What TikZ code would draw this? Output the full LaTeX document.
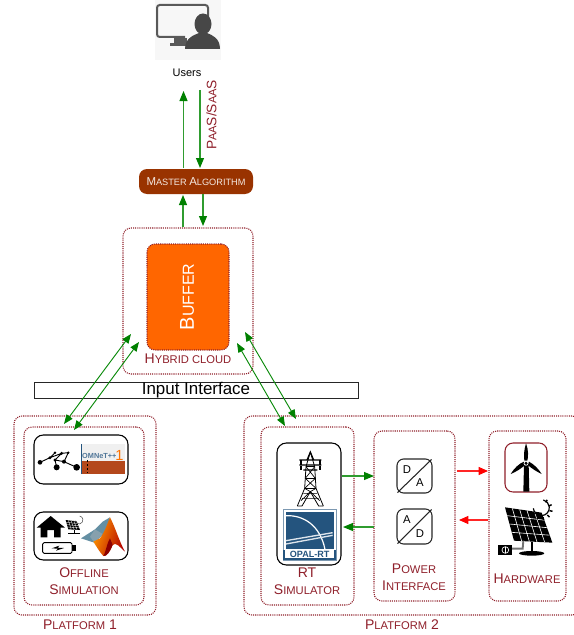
\documentclass[tikz,border=0pt]{standalone}
\usepackage{fontspec}
\setmainfont{Liberation Sans}
\usetikzlibrary{arrows.meta,calc}
\definecolor{dred}{HTML}{8F1F2A}
\definecolor{gline}{HTML}{0A8A0A}
\definecolor{mbrown}{HTML}{993300}
\definecolor{orng}{HTML}{FF6600}
\definecolor{opal}{HTML}{24547E}
\definecolor{omb}{HTML}{B4481C}
\newcommand\bigS{\fontsize{10.5}{12}\selectfont}
\newcommand\smlS{\fontsize{8.4}{10}\selectfont}
\newcommand\caps[2]{{\bigS #1\smlS #2}}
\newcommand\boxat[6]{\node[#2,minimum width={(#5-#3)*0.75pt},minimum height={(#6-#4)*0.75pt}] (#1) at ({(#3+#5)/2},{(#4+#6)/2}) {};}
\tikzset{
  dotbox/.style={draw=dred,line width=.8pt,dash pattern=on .8pt off .8pt,rounded corners=6pt,inner sep=0pt},
  iconbox/.style={draw=black,line width=.8pt,rounded corners=7pt,fill=white,inner sep=0pt},
  conv/.style={draw=black!85,line width=.8pt,rounded corners=5pt,inner sep=0pt},
  lab/.style={text=dred,align=center,inner sep=0pt,font=\bigS},
  garrow/.style={draw=gline!85!white,line width=.8pt,-{Triangle[length=7.5pt,width=6pt,color=green!50!black]}},
  gboth/.style={draw=gline,line width=.7pt,{Triangle[length=7pt,width=5.5pt,color=green!50!black]}-{Triangle[length=7pt,width=5.5pt,color=green!50!black]}},
  rarrow/.style={draw=red!85!white,line width=.8pt,-{Triangle[length=7pt,width=6pt,color=red]}}
}
\begin{document}
\begin{tikzpicture}[x=0.75pt,y=-0.75pt]
\useasboundingbox (0,0) rectangle (574,635);
% Users icon
\fill[black!3] (155,0) rectangle (221,60);
\draw[black!65,line width=1.5pt,rounded corners=2pt] (185,37) -- (157,37) -- (157,5) -- (208,5) -- (208,20);
\fill[black!65] (174,38) rectangle (187,43);
\fill[black!65] (170,43) rectangle (186,46);
\fill[black!72] (203,24) ellipse (8.5 and 10.5);
\fill[black!72] (185,49) .. controls (185,38) and (194,35) .. (199,33) -- (207,33) .. controls (212,35) and (220,38) .. (220,49) -- cycle;
\node[inner sep=0pt,font=\fontsize{8.25}{10}\selectfont] (users) at (187,73) {Users};
% master
\boxat{master}{draw=none,fill=mbrown,rounded corners=6pt,inner sep=0pt}{139}{169}{253}{194}
\node[text=white!88!mbrown,inner sep=0pt] (mastertext) at (196,181.5) {\fontsize{8.6}{10}\selectfont M\fontsize{6.9}{8}\selectfont ASTER \fontsize{8.6}{10}\selectfont A\fontsize{6.9}{8}\selectfont LGORITHM};
\node[rotate=90,text=dred,inner sep=0pt] (paas) at (211.5,115) {\fontsize{10.3}{12}\selectfont P\fontsize{8.3}{10}\selectfont AA\fontsize{10.3}{12}\selectfont S/S\fontsize{8.3}{10}\selectfont AA\fontsize{10.3}{12}\selectfont S};
% hybrid
\boxat{hybrid}{dotbox}{123}{228}{253}{374}
\boxat{buffer}{dotbox,fill=orng}{147}{244}{229}{350}
\node[rotate=90,text=white,inner sep=0pt] (buftext) at (187,297) {\fontsize{15}{17}\selectfont B\fontsize{12}{14}\selectfont UFFER};
\node[lab] (hybtext) at (188,359) {\caps{H}{YBRID CLOUD}};
% input interface
\boxat{input}{draw=black!85,line width=.7pt,inner sep=0pt}{34}{382}{358}{398}
\node[inner sep=0pt,font=\fontsize{12.7}{14}\selectfont] (inputtext) at (196,390) {Input Interface};
% platform 1
\boxat{plat1}{dotbox}{14}{416}{156}{615}
\boxat{off}{dotbox}{24}{427}{144}{605}
\boxat{ic1}{iconbox}{34}{435}{128}{484}
\boxat{ic2}{iconbox}{34}{512}{128}{560}
\node[lab] (offt) at (84,573) {\caps{O}{FFLINE}};
\node[lab] (simt) at (84,590) {\caps{S}{IMULATION}};
\node[lab] (p1t) at (80,625) {\caps{P}{LATFORM} 1};
% network graph and OMNeT
\begin{scope}[shift={(0,410)},x=0.25pt,y=-0.25pt]
  \draw[black,line width=.7pt] (120,157) -- (150,143) -- (165,128) (150,143) -- (185,130) -- (205,128) (185,130) -- (165,150) -- (170,172) (165,150) -- (192,155) -- (230,172) (192,155) -- (205,128);
  \foreach \p/\r in {{(120,157)}/7,{(150,143)}/5,{(165,128)}/4,{(185,130)}/5,{(205,128)}/4,{(165,150)}/5,{(192,155)}/6,{(170,172)}/9,{(230,172)}/10}{\fill[black] \p circle (\r);}
  \fill[black!6] (244,102) rectangle (375,152);
  \fill[omb] (244,152) rectangle (375,191);
  \fill[opal] (243,102) rectangle (246,191);
  \draw[black,line width=.6pt,dash pattern=on 1.5pt off 1.5pt] (262,150) -- (262,190);
  \node[inner sep=0pt,text=opal!80!white,font=\bfseries\fontsize{5.5}{6}\selectfont] (omnet) at (298,138) {OMNeT++};
  \node[inner sep=0pt,text=orange!90!red,font=\fontsize{11}{12}\selectfont] (omnum) at (358,136) {1};
  % house
  \fill[black] (110,353) -- (152,318) -- (195,353) -- (182,353) -- (182,382) -- (162,382) -- (162,360) -- (142,360) -- (142,382) -- (122,382) -- (122,353) -- cycle;
  % battery
  \draw[black,line width=.7pt,rounded corners=1pt,fill=white] (128,398) rectangle (216,430);
  \fill[black] (216,405) rectangle (228,423);
  \fill[black] (155,415) -- (178,407) -- (172,413) -- (192,414) -- (168,422) -- (174,416) -- cycle;
  % matlab
  \fill[cyan!50!black!80] (243,385) -- (285,358) -- (308,335) -- (330,322) -- (318,365) -- (283,398) -- cycle;
  \fill[black!60!cyan!60] (285,358) -- (308,372) -- (290,392) -- (283,398) -- (270,380) -- cycle;
  \shade[left color=orange!80!yellow,right color=red!70!black,shading angle=70] (330,322) .. controls (345,350) and (358,395) .. (375,425) .. controls (358,410) and (348,395) .. (338,405) .. controls (330,425) and (320,440) .. (310,438) .. controls (298,425) and (290,410) .. (280,395) -- (300,385) .. controls (315,365) and (322,340) .. cycle;
  \fill[red!55!black] (338,405) .. controls (330,425) and (320,440) .. (310,438) .. controls (318,425) and (322,395) .. (330,385) -- cycle;
  % small solar panel
  \fill[black] (197,330) -- (230,334) -- (240,360) -- (205,358) -- cycle;
  \foreach \t in {0.25,0.5,0.75}{
    \draw[white,line width=.25pt] ($(197,330)!\t!(230,334)$) -- ($(205,358)!\t!(240,360)$);
    \draw[white,line width=.25pt] ($(197,330)!\t!(205,358)$) -- ($(230,334)!\t!(240,360)$);}
  \draw[black,line width=.5pt] (222,360) -- (222,371) (205,371) -- (240,371);
  \draw[black!70,line width=.4pt] (225,332) arc (170:-80:12);
\end{scope}
% platform 2
\boxat{plat2}{dotbox}{244}{416}{580}{615}
\boxat{rt}{dotbox}{261}{427}{354}{605}
\boxat{rtbox}{iconbox}{277}{443}{341}{565}
\boxat{pi}{dotbox}{374}{431}{455}{601}
\boxat{hw}{dotbox}{489}{431}{566}{601}
\boxat{da}{conv}{397}{459}{432}{493}
\boxat{ad}{conv}{397}{509}{432}{544}
\boxat{wind}{draw=dred,line width=.8pt,rounded corners=6pt,inner sep=0pt}{505}{443}{547}{492}
\draw[black!85,line width=.8pt] ($(da.south west)+(1,-1)$) -- ($(da.north east)+(-1,1)$);
\draw[black!85,line width=.8pt] ($(ad.south west)+(1,-1)$) -- ($(ad.north east)+(-1,1)$);
\node[inner sep=0pt,font=\fontsize{8.5}{10}\selectfont] (daD) at (407,469.5) {D};
\node[inner sep=0pt,font=\fontsize{8.5}{10}\selectfont] (daA) at (420,483) {A};
\node[inner sep=0pt,font=\fontsize{8.5}{10}\selectfont] (adA) at (407,519.5) {A};
\node[inner sep=0pt,font=\fontsize{8.5}{10}\selectfont] (adD) at (420,534) {D};
\node[lab] (rt1) at (307,573) {RT};
\node[lab] (rt2) at (307,590) {\caps{S}{IMULATOR}};
\node[lab] (pw1) at (414,569) {\caps{P}{OWER}};
\node[lab] (pw2) at (414,586) {\caps{I}{NTERFACE}};
\node[lab] (hwt) at (527,579) {\caps{H}{ARDWARE}};
\node[lab] (p2t) at (402,625) {\caps{P}{LATFORM} 2};
\begin{scope}[shift={(240,410)},x=0.25pt,y=-0.25pt]
  % tower
  \draw[black,line width=.6pt] (211,126) -- (198,170) -- (194,235) -- (172,288) (211,126) -- (224,170) -- (228,235) -- (250,288);
  \draw[black,line width=.6pt] (172,288) -- (186,288) -- (211,245) -- (236,288) -- (250,288);
  \draw[black,line width=.6pt] (194,235) -- (228,235) (196,205) -- (226,205) (198,170) -- (224,170);
  \draw[black,line width=.5pt] (198,170) -- (226,205) -- (194,235) (224,170) -- (196,205) -- (228,235) (194,235) -- (211,245) -- (228,235) (186,265) -- (236,265) (190,250) -- (232,250) (183,272) -- (211,245) -- (239,272);
  \draw[black,line width=.9pt] (178,150) -- (244,150) (178,165) -- (244,165) (190,180) -- (232,180) (201,150) -- (211,126) -- (221,150);
  \foreach \p in {180,238}{\fill[black] (\p,150) rectangle ++(6,14); \fill[black] (\p,167) rectangle ++(6,12);}
  % opal logo
  \fill[white] (130,297) rectangle (288,450);
  \draw[opal!60,line width=.6pt] (130,297) rectangle (288,450);
  \fill[opal] (138,305) rectangle (281,418);
  \fill[opal] (130,420) rectangle (288,450);
  \fill[white] (136,420) rectangle (282,445);
  \draw[white,line width=.9pt] (138,317) .. controls (190,315) and (240,345) .. (255,418);
  \draw[white!85!opal,line width=1pt] (138,392) -- (278,368) (138,402) -- (278,376);
  \node[inner sep=0pt,text=opal,font=\bfseries\fontsize{6.8}{8}\selectfont] (opaltxt) at (209,433) {OPAL-RT};
  % wind turbine
  \fill[black] (852,165) -- (866,165) -- (868,245) -- (850,245) -- cycle;
  \fill[black] (858,100) .. controls (866,120) and (865,140) .. (862,152) -- (853,152) .. controls (851,135) and (852,120) .. (858,100) -- cycle;
  \fill[black] (812,192) .. controls (822,175) and (838,160) .. (852,155) -- (856,165) .. controls (843,175) and (830,185) .. cycle;
  \fill[black] (905,192) .. controls (890,185) and (875,175) .. (863,165) -- (867,155) .. controls (880,162) and (895,175) .. cycle;
  \fill[white] (858,160) circle (7);
  \fill[black] (858,160) circle (5);
  % solar panel
  \fill[black] (795,292) -- (905,308) -- (937,398) -- (822,392) -- cycle;
  \foreach \t in {0.2,0.4,0.6,0.8}{
    \draw[white,line width=.45pt] ($(795,292)!\t!(905,308)$) -- ($(822,392)!\t!(937,398)$);}
  \foreach \t in {0.25,0.5,0.75}{
    \draw[white,line width=.45pt] ($(795,292)!\t!(822,392)$) -- ($(905,308)!\t!(937,398)$);}
  \draw[black,line width=1.4pt] (875,395) -- (875,428);
  \fill[black] (875,430) ellipse (38 and 7);
  \draw[black,line width=.9pt] (880,295) arc (175:-75:24);
  \foreach \a in {150,115,80,45,10,-25,-60}{\draw[black,line width=1.1pt] ($(905,298)+(\a:24)$) -- ($(905,298)+(\a:33)$);}
  \draw[black!55,line width=1.4pt] (812,416) -- (848,416) -- (850,392);
  \fill[black] (775,404) rectangle (815,436);
  \draw[white,line width=.5pt] (796,420) circle (10);
  \draw[white,line width=.5pt] (796,412) -- (796,428);
\end{scope}
% connector end points
\coordinate (uUp) at (183.5,91);
\coordinate (mUp) at (183.5,168);
\coordinate (uDn) at (200,90);
\coordinate (mDn) at (200,168);
\coordinate (bUp) at (183,227);
\coordinate (mBu) at (183,195);
\coordinate (mBd) at (203,194);
\coordinate (bDn) at (203,226);
\coordinate (lA1) at (131,334);
\coordinate (lA2) at (64,424);
\coordinate (lB1) at (139,342);
\coordinate (lB2) at (74,430);
\coordinate (rC1) at (245,332);
\coordinate (rC2) at (296,419);
\coordinate (rD1) at (237,343);
\coordinate (rD2) at (285,426);
\coordinate (rtR) at (342,476);
\coordinate (piL) at (374,476);
\coordinate (piL2) at (374,527);
\coordinate (rtR2) at (343,527);
\coordinate (piR) at (457,471);
\coordinate (hwL) at (488,471);
\coordinate (hwL2) at (488,520);
\coordinate (piR2) at (459,520);
\draw[garrow] (mUp) -- (uUp);
\draw[garrow] (uDn) -- (mDn);
\draw[garrow] (bUp) -- (mBu);
\draw[garrow] (mBd) -- (bDn);
\draw[gboth] (lA1) -- (lA2);
\draw[gboth] (lB1) -- (lB2);
\draw[gboth] (rC1) -- (rC2);
\draw[gboth] (rD1) -- (rD2);
\draw[garrow] (rtR) -- (piL);
\draw[garrow] (piL2) -- (rtR2);
\draw[rarrow] (piR) -- (hwL);
\draw[rarrow] (hwL2) -- (piR2);
\end{tikzpicture}
\end{document}
